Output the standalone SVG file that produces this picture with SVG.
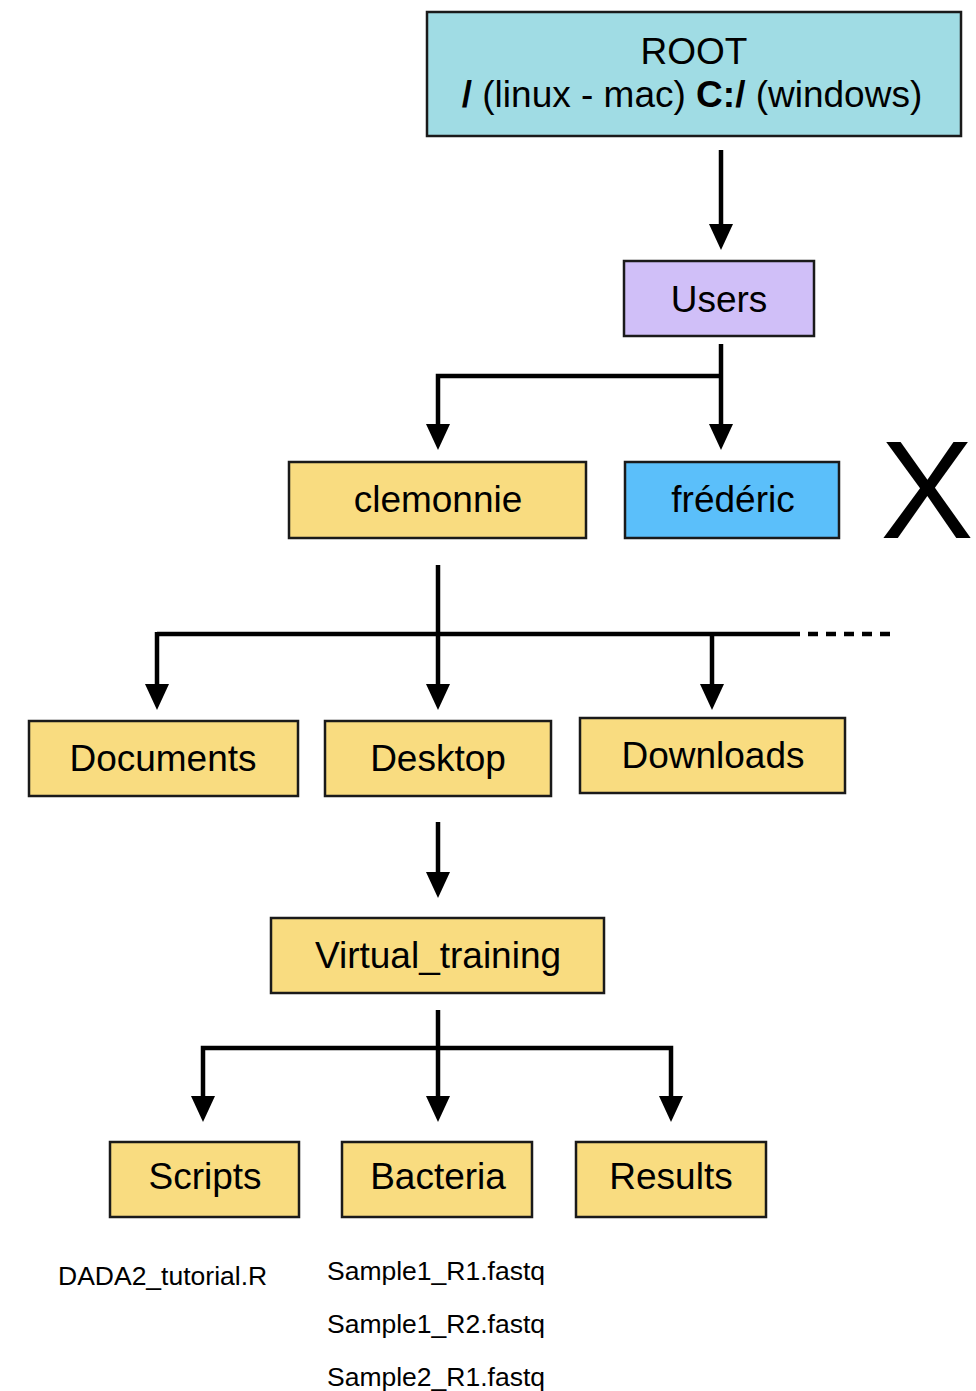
<svg xmlns="http://www.w3.org/2000/svg" width="976" height="1391" viewBox="0 0 976 1391">
  <style>
    .box { stroke: #1a1a1a; stroke-width: 2.5; }
    .root { fill: #a0dce4; }
    .users { fill: #d0bff8; }
    .folder { fill: #f9dc80; }
    .blue { fill: #5bbffa; }
    .lbl { font-family: "Liberation Sans", Arial, sans-serif; font-size: 37px; fill: #000; text-anchor: middle; }
    .file { font-family: "Liberation Sans", Arial, sans-serif; font-size: 26.5px; fill: #000; }
    .wire { fill: none; stroke: #000; stroke-width: 4.5; }
    .arrow { marker-end: url(#head); }
  </style>
  <defs>
    <marker id="head" markerUnits="userSpaceOnUse" markerWidth="26" markerHeight="24" viewBox="0 0 26 24" refX="4" refY="12" orient="auto">
      <path d="M0,0 L26,12 L0,24 z" fill="#000"/>
    </marker>
  </defs>

  <g id="connectors">
    <!-- ROOT to Users -->
    <line class="wire arrow" x1="721" y1="150" x2="721" y2="228"/>
    <!-- Users to its children -->
    <line class="wire arrow" x1="721" y1="344" x2="721" y2="428"/>
    <polyline class="wire arrow" points="721,376 438,376 438,428"/>
    <!-- clemonnie to its folders -->
    <line class="wire arrow" x1="438" y1="565" x2="438" y2="688"/>
    <polyline class="wire" points="157,634 800,634"/>
    <line class="wire" x1="808" y1="634" x2="890" y2="634" stroke-dasharray="10,8"/>
    <line class="wire arrow" x1="157" y1="632" x2="157" y2="688"/>
    <line class="wire arrow" x1="712" y1="634" x2="712" y2="688"/>
    <!-- Desktop to Virtual_training -->
    <line class="wire arrow" x1="438" y1="822" x2="438" y2="876"/>
    <!-- Virtual_training to its folders -->
    <line class="wire arrow" x1="438" y1="1010" x2="438" y2="1100"/>
    <polyline class="wire arrow" points="438,1048 203,1048 203,1100"/>
    <polyline class="wire arrow" points="438,1048 671,1048 671,1100"/>
  </g>

  <g id="root">
    <rect class="box root" x="427" y="12" width="534" height="124"/>
    <text class="lbl" x="694" y="64">ROOT</text>
    <text class="lbl" x="692" y="107"><tspan font-weight="bold">/</tspan> (linux - mac) <tspan font-weight="bold">C:/</tspan> (windows)</text>
  </g>

  <g id="users">
    <rect class="box users" x="624" y="261" width="190" height="75"/>
    <text class="lbl" x="719" y="312">Users</text>
  </g>

  <g id="clemonnie">
    <rect class="box folder" x="289" y="462" width="297" height="76"/>
    <text class="lbl" x="438" y="512">clemonnie</text>
  </g>

  <g id="frederic">
    <rect class="box blue" x="625" y="462" width="214" height="76"/>
    <text class="lbl" x="733" y="512">frédéric</text>
  </g>

  <g id="cross">
    <text x="927" y="538" font-family="Liberation Sans, Arial, sans-serif" font-size="140" text-anchor="middle" fill="#000">X</text>
  </g>

  <g id="documents">
    <rect class="box folder" x="29" y="721" width="269" height="75"/>
    <text class="lbl" x="163" y="771">Documents</text>
  </g>

  <g id="desktop">
    <rect class="box folder" x="325" y="721" width="226" height="75"/>
    <text class="lbl" x="438" y="771">Desktop</text>
  </g>

  <g id="downloads">
    <rect class="box folder" x="580" y="718" width="265" height="75"/>
    <text class="lbl" x="713" y="768">Downloads</text>
  </g>

  <g id="virtual-training">
    <rect class="box folder" x="271" y="918" width="333" height="75"/>
    <text class="lbl" x="438" y="968">Virtual_training</text>
  </g>

  <g id="scripts">
    <rect class="box folder" x="110" y="1142" width="189" height="75"/>
    <text class="lbl" x="205" y="1189">Scripts</text>
    <text class="file" x="58" y="1285">DADA2_tutorial.R</text>
  </g>

  <g id="bacteria">
    <rect class="box folder" x="342" y="1142" width="190" height="75"/>
    <text class="lbl" x="438" y="1189">Bacteria</text>
    <text class="file" x="327" y="1280">Sample1_R1.fastq</text>
    <text class="file" x="327" y="1333">Sample1_R2.fastq</text>
    <text class="file" x="327" y="1386">Sample2_R1.fastq</text>
  </g>

  <g id="results">
    <rect class="box folder" x="576" y="1142" width="190" height="75"/>
    <text class="lbl" x="671" y="1189">Results</text>
  </g>
</svg>
